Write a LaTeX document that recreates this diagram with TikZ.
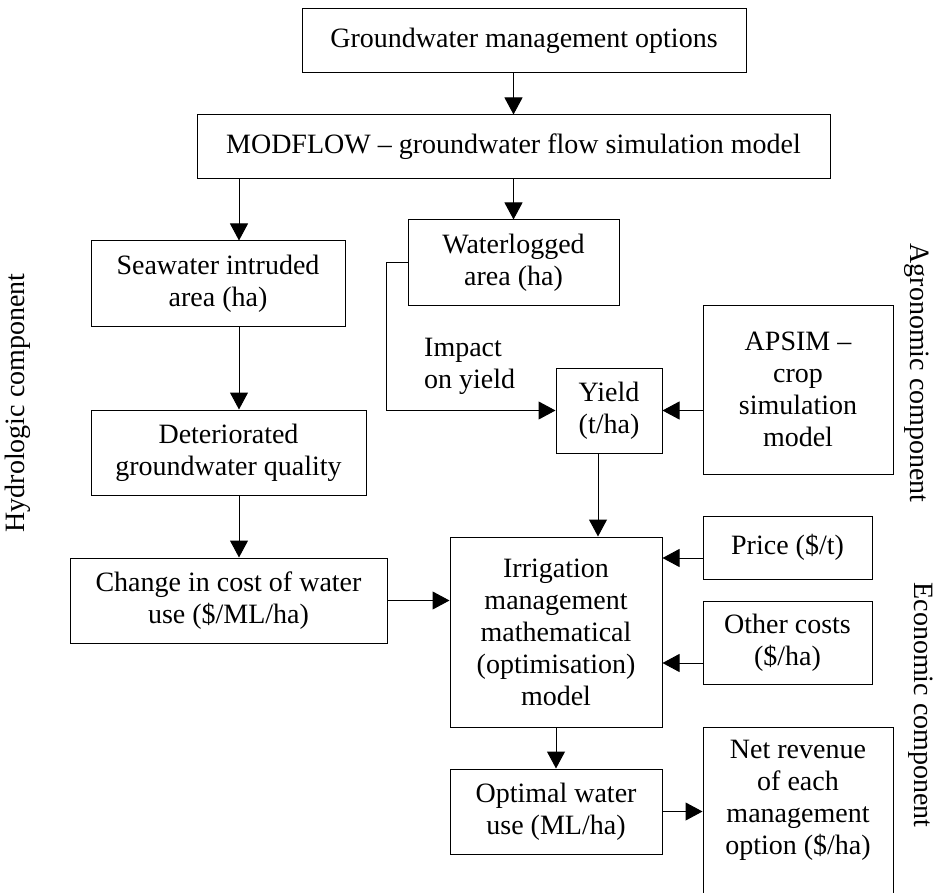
\documentclass[tikz,border=0pt]{standalone}
\usepackage{fontspec}
\setmainfont{Liberation Serif}
\usetikzlibrary{arrows.meta}
\begin{document}
\begin{tikzpicture}[x=1pt,y=-1pt,
  box/.style={draw, line width=1pt, inner sep=0pt, align=center, font=\fontsize{28}{32}\selectfont},
  txt/.style={inner sep=0pt, align=center, font=\fontsize{28}{32}\selectfont},
  arr/.style={-{Triangle[length=17pt,width=18pt]}, line width=1pt},
  conn/.style={line width=1pt}]
\useasboundingbox (0,0) rectangle (939,893);
% nodes
\node[box, minimum width=444pt, minimum height=64pt] (g) at (524,41) {Groundwater management options};
\node[box, minimum width=633pt, minimum height=64pt] (mod) at (513.5,147) {MODFLOW -- groundwater flow simulation model};
\node[box, minimum width=254pt, minimum height=85pt] (sea) at (218,283.5) {Seawater intruded\\area (ha)};
\node[box, minimum width=211pt, minimum height=85pt] (wat) at (513.5,262.5) {Waterlogged\\area (ha)};
\node[box, minimum width=106pt, minimum height=85pt] (yield) at (609,410.5) {Yield\\(t/ha)};
\node[box, minimum width=190pt, minimum height=169pt] (apsim) at (798,389.5) {APSIM --\\crop\\simulation\\model};
\node[box, minimum width=275pt, minimum height=85pt] (det) at (228.5,452.5) {Deteriorated\\groundwater quality};
\node[box, minimum width=317pt, minimum height=85pt] (chg) at (228.5,600.5) {Change in cost of water\\use (\$/ML/ha)};
\node[box, minimum width=212pt, minimum height=190pt] (irr) at (556,632) {Irrigation\\management\\mathematical\\(optimisation)\\model};
\node[box, minimum width=169pt, minimum height=63pt] (price) at (787.5,547.5) {Price (\$/t)};
\node[box, minimum width=169pt, minimum height=83pt] (other) at (787.5,642.5) {Other costs\\(\$/ha)};
\node[box, minimum width=212pt, minimum height=85pt] (opt) at (556,811.5) {Optimal water\\use (ML/ha)};
\node[box, minimum width=190pt, minimum height=185pt, anchor=north] (net) at (798,727) {};
\node[txt] (nettxt) at (798,800) {Net revenue\\of each\\management\\option (\$/ha)};
\node[txt, align=left, anchor=west] (impact) at (424,366) {Impact\\on yield};
\node[txt, rotate=90] (hydro) at (18,403) {Hydrologic component};
\node[txt, rotate=-90] (agro) at (917,373) {Agronomic component};
\node[txt, rotate=-90] (econ) at (921,705) {Economic component};
% helper coordinates
\coordinate (hx) at (239,0);
\coordinate (yx) at (598,0);
\coordinate (wl) at (386,263);
\coordinate (pr) at (0,558);
\coordinate (oc) at (0,663);
% connectors
\draw[arr] (mod.north |- g.south) -- (mod.north);
\draw[arr] (hx |- mod.south) -- (hx |- sea.north);
\draw[arr] (mod.south -| wat.north) -- (wat.north);
\draw[arr] (hx |- sea.south) -- (hx |- det.north);
\draw[arr] (hx |- det.south) -- (hx |- chg.north);
\draw[arr] (wat.west |- wl) -- (wl) -- (wl |- yield.west) -- (yield.west);
\draw[arr] (apsim.west |- yield.east) -- (yield.east);
\draw[arr] (yx |- yield.south) -- (yx |- irr.north);
\draw[arr] (chg.east) -- (irr.west |- chg.east);
\draw[arr] (price.west |- pr) -- (irr.east |- pr);
\draw[arr] (other.west |- oc) -- (irr.east |- oc);
\draw[arr] (irr.south) -- (opt.north);
\draw[arr] (opt.east) -- (net.west |- opt.east);
\end{tikzpicture}
\end{document}
